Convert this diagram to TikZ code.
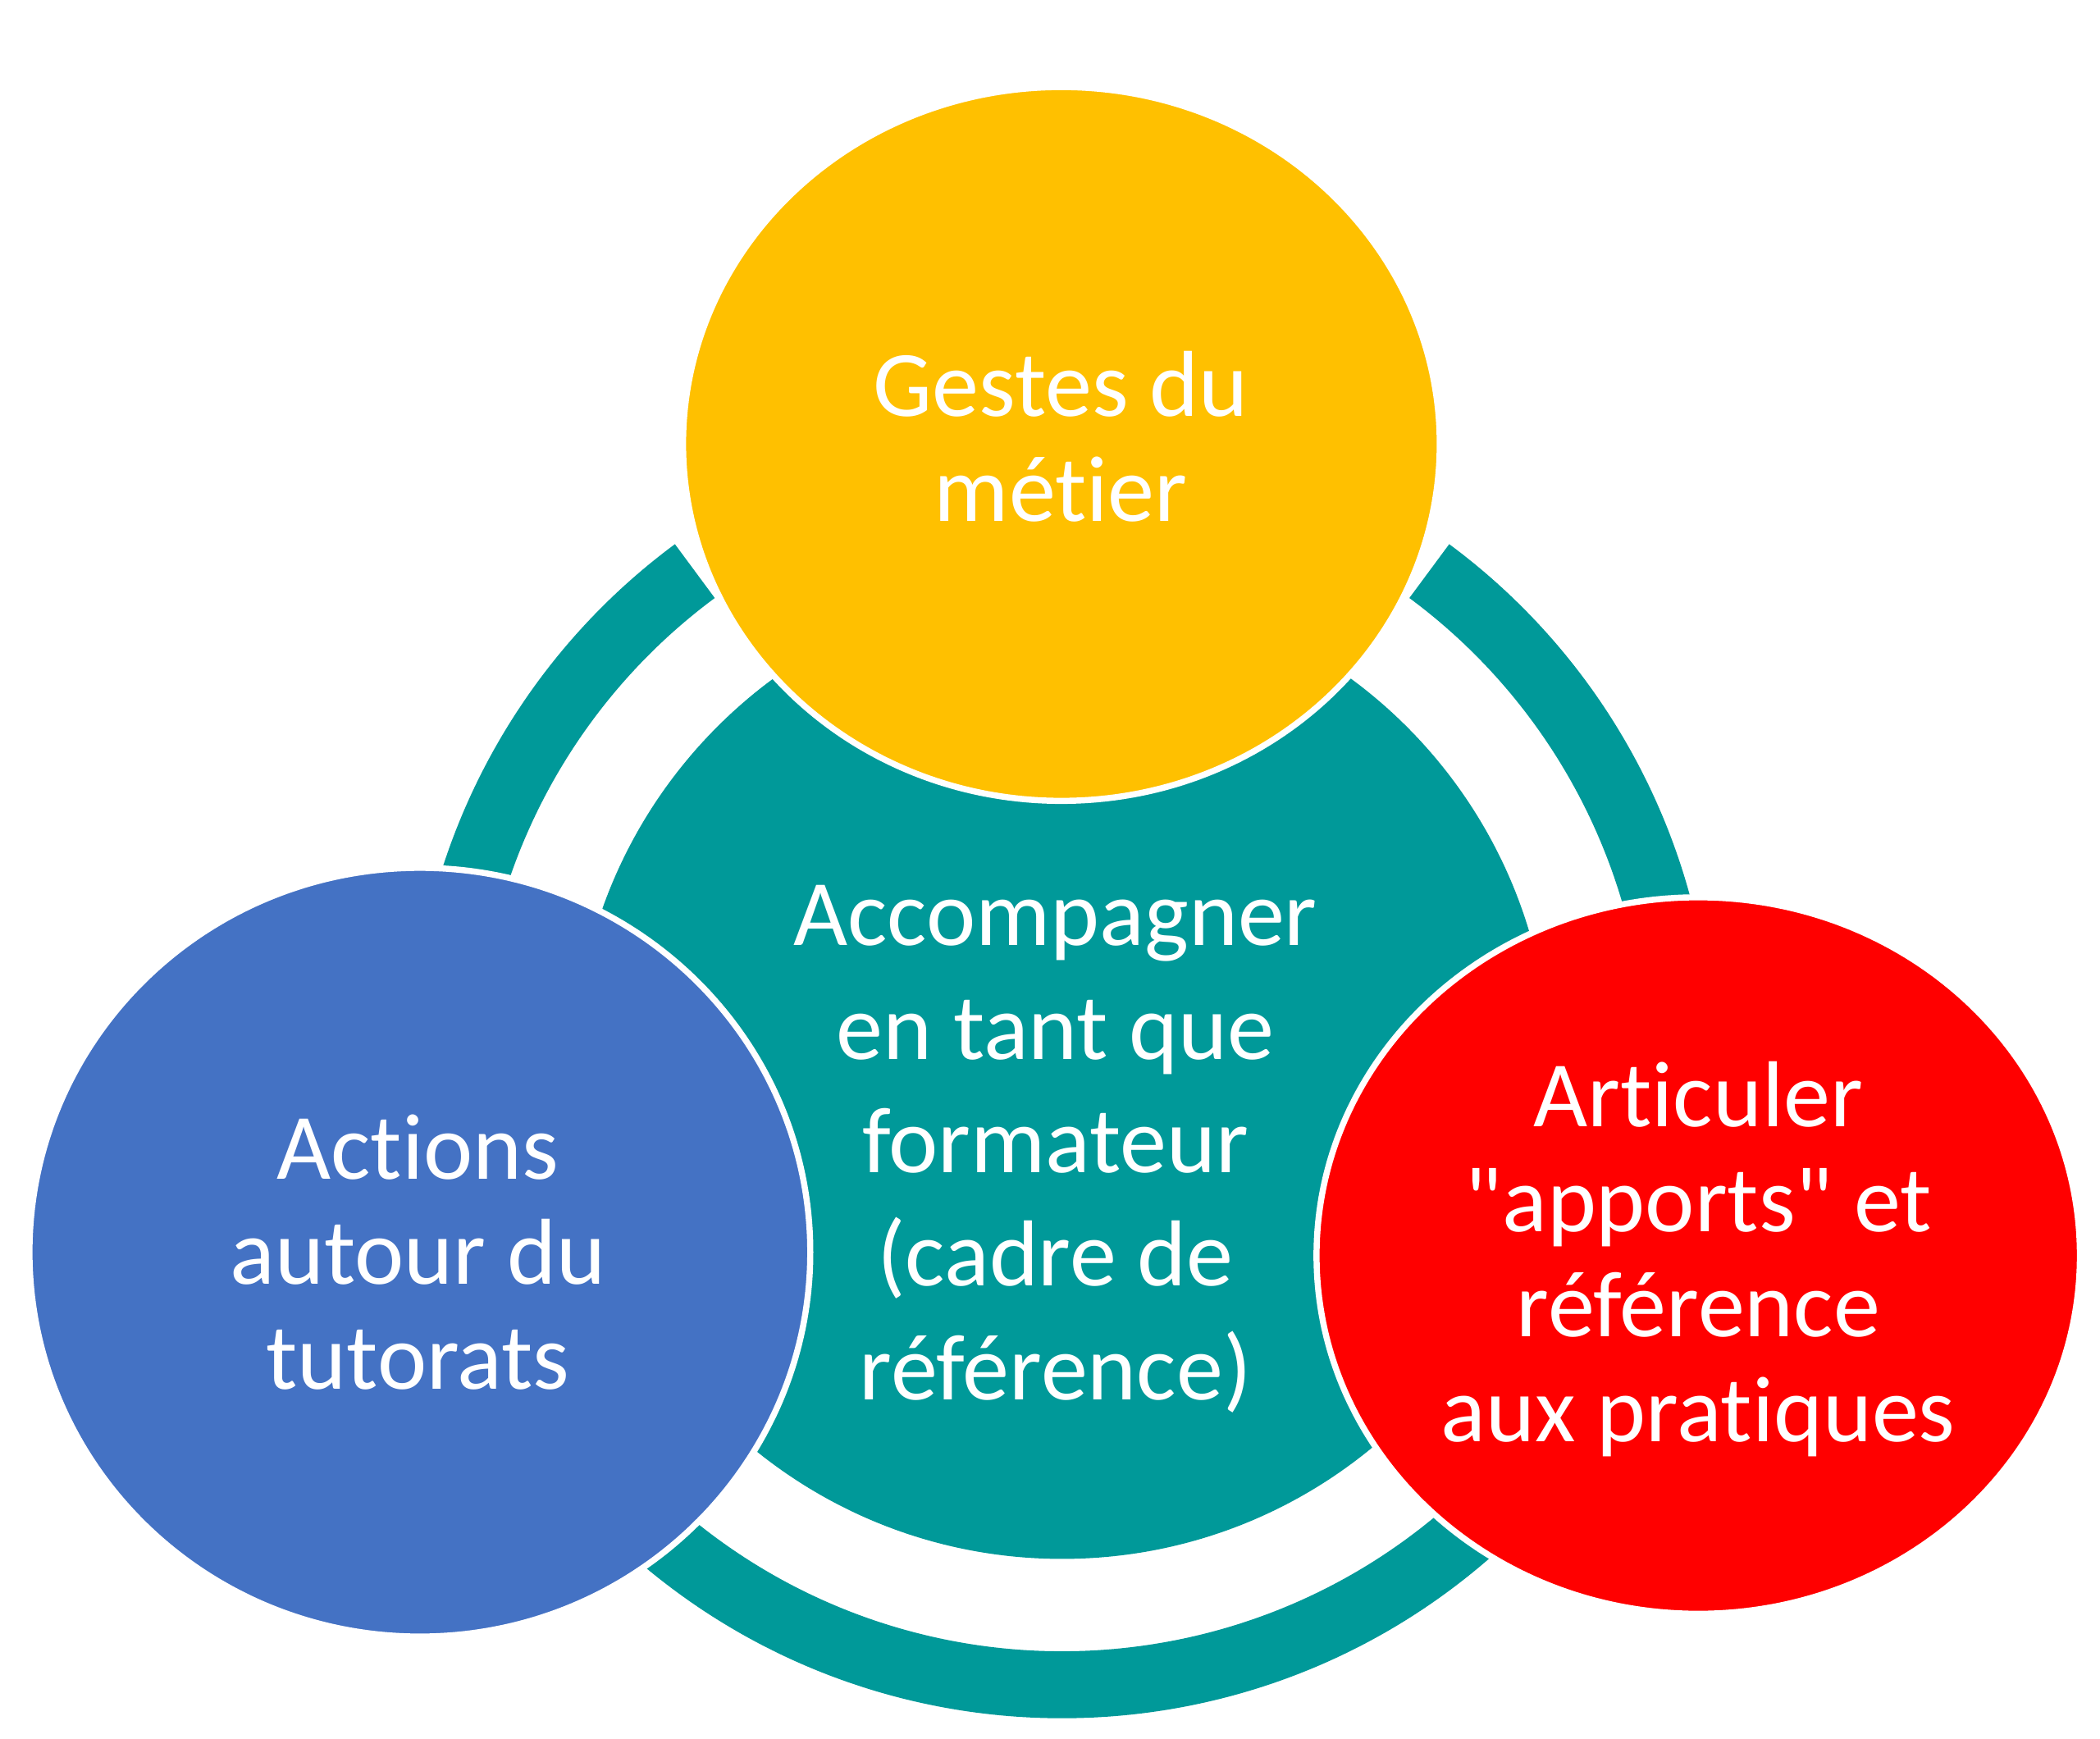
\documentclass[tikz,border=0pt]{standalone}
\usepackage{fontspec}
\setmainfont{Carlito}[Ligatures={TeXOff,CommonOff}]
\usetikzlibrary{shapes.geometric}
\definecolor{ringteal}{RGB}{0,153,153}
\definecolor{gold}{RGB}{255,192,0}
\definecolor{cblue}{RGB}{68,114,196}
\definecolor{cred}{RGB}{255,0,0}
\tikzset{
  bubble/.style={ellipse, draw=white, line width=1.3pt, inner sep=0pt},
  lbl/.style={text=white, align=center, font=\fontsize{19.9}{22.3}\selectfont},
  clbl/.style={text=white, align=center, font=\fontsize{19.9}{24.1}\selectfont},
}
\begin{document}
\begin{tikzpicture}
\useasboundingbox (0,0) rectangle (15.68,12.98);
\coordinate (C) at (7.93,5.01);
% ring segments
\begin{scope}[shift={(C)}]
  \fill[ringteal] (126.5:4.86) arc[start angle=126.5, end angle=162, radius=4.86] -- (162:4.36) arc[start angle=162, end angle=126.5, radius=4.36] -- cycle;
  \fill[ringteal] (15:4.86) arc[start angle=15, end angle=53.5, radius=4.86] -- (53.5:4.36) arc[start angle=53.5, end angle=15, radius=4.36] -- cycle;
  \fill[ringteal] (230:4.86) arc[start angle=230, end angle=311, radius=4.86] -- (311:4.36) arc[start angle=311, end angle=230, radius=4.36] -- cycle;
\end{scope}
% central circle
\node[circle, fill=ringteal, minimum size=7.28cm, inner sep=0pt] (center) at (7.93,4.98) {};
% outer bubbles
\node[bubble, fill=gold, minimum width=5.65cm, minimum height=5.33cm] (top) at (7.925,9.665) {};
\node[bubble, fill=cblue, minimum width=5.83cm, minimum height=5.74cm] (left) at (3.135,3.63) {};
\node[bubble, fill=cred, minimum width=5.70cm, minimum height=5.35cm] (right) at (12.68,3.605) {};
% labels
\node[lbl] (ttop) at (7.92,9.72) {Gestes du\\métier};
\node[clbl] (tcenter) at (7.88,4.40) {Accompagner\\en tant que\\formateur\\(cadre de\\référence)};
\node[lbl] (tleft) at (3.12,3.63) {Actions\\autour du\\tutorats};
\node[lbl] (tright) at (12.68,3.58) {Articuler\\"apports" et\\référence\\aux pratiques};
\end{tikzpicture}
\end{document}
